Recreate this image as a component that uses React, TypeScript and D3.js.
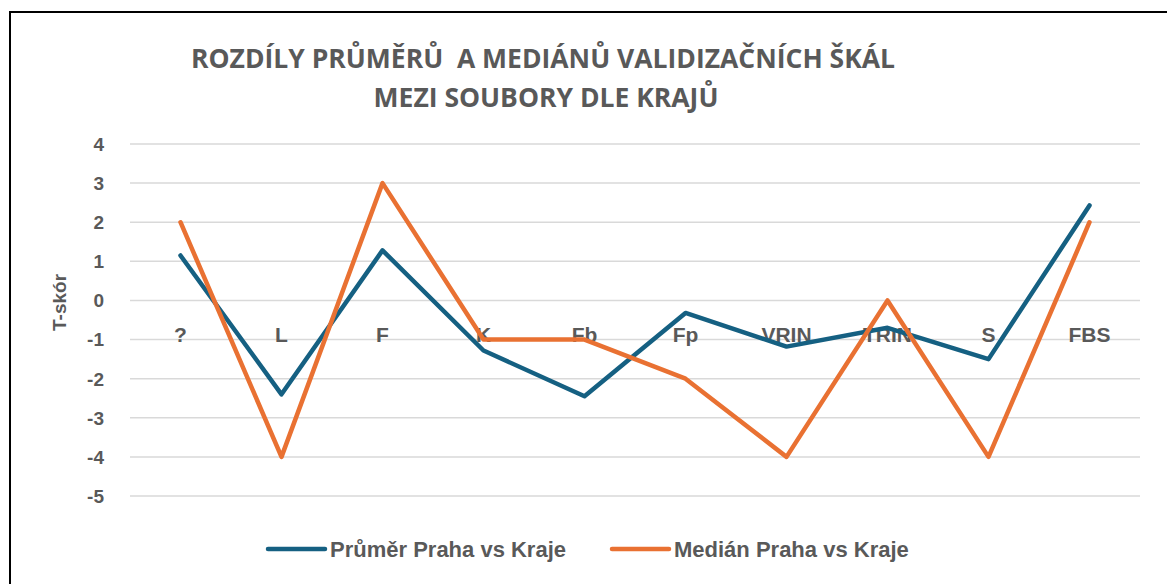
import React, { useEffect, useRef } from "react";
import * as d3 from "d3";

const categories = ["?", "L", "F", "K", "Fb", "Fp", "VRIN", "TRIN", "S", "FBS"];
const prumer = [1.15, -2.4, 1.28, -1.28, -2.45, -0.32, -1.18, -0.7, -1.5, 2.43];
const median = [2, -4, 3, -1, -1, -2, -4, 0, -4, 2];
const yTicks = [4, 3, 2, 1, 0, -1, -2, -3, -4, -5];
const seriesNames = ["Průměr Praha vs Kraje", "Medián Praha vs Kraje"];
const colors = ["#156082", "#E97132"];

const textColor = "#595959";
const narrow = "'Liberation Sans Narrow', 'Arial Narrow', sans-serif";

export default function App() {
  const ref = useRef<SVGSVGElement>(null);

  useEffect(() => {
    const svg = d3.select(ref.current);
    svg.selectAll("*").remove();

    const width = 1167, height = 584;
    const left = 130, right = 1140, top = 144, bottom = 496;

    svg.append("rect").attr("width", width).attr("height", height).attr("fill", "#fff");

    // border (only left and top visible in the picture)
    svg.append("path")
      .attr("d", `M10,${height} L10,12 L${width},12`)
      .attr("fill", "none")
      .attr("stroke", "#000")
      .attr("stroke-width", 2);

    var x = d3.scalePoint().domain(categories).range([left, right]).padding(0.5);
    var y = d3.scaleLinear().domain([-5, 4]).range([bottom, top]);

    // gridlines
    svg.append("g")
      .selectAll("line")
      .data(yTicks)
      .enter()
      .append("line")
      .attr("x1", left)
      .attr("x2", right)
      .attr("y1", (d) => y(d))
      .attr("y2", (d) => y(d))
      .attr("stroke", "#d9d9d9")
      .attr("stroke-width", 1.5);

    // y tick labels
    svg.append("g")
      .selectAll("text")
      .data(yTicks)
      .enter()
      .append("text")
      .attr("x", 104)
      .attr("y", (d) => y(d))
      .attr("dy", "0.36em")
      .attr("text-anchor", "end")
      .attr("font-family", "'Liberation Sans', Arial, sans-serif")
      .attr("font-weight", "bold")
      .attr("font-size", 19)
      .attr("fill", textColor)
      .text((d) => d);

    // y axis title
    svg.append("text")
      .attr("transform", `translate(66,${y(0) + 2}) rotate(-90)`)
      .attr("text-anchor", "middle")
      .attr("font-family", "'Liberation Sans', Arial, sans-serif")
      .attr("font-weight", "bold")
      .attr("font-size", 19)
      .attr("fill", textColor)
      .text("T-skór");

    // category labels, next to the zero line
    svg.append("g")
      .selectAll("text")
      .data(categories)
      .enter()
      .append("text")
      .attr("x", (d) => x(d)!)
      .attr("y", y(0) + 42)
      .attr("text-anchor", "middle")
      .attr("font-family", narrow)
      .attr("font-weight", "bold")
      .attr("font-size", 21)
      .attr("fill", textColor)
      .text((d) => d);

    // lines
    var line = d3.line<number>()
      .x((d, i) => x(categories[i])!)
      .y((d) => y(d));

    [prumer, median].forEach((s, i) => {
      svg.append("path")
        .datum(s)
        .attr("d", line)
        .attr("fill", "none")
        .attr("stroke", colors[i])
        .attr("stroke-width", 4.5)
        .attr("stroke-linejoin", "round")
        .attr("stroke-linecap", "round");
    });

    // title
    var title = svg.append("text")
      .attr("text-anchor", "middle")
      .attr("font-family", "'Open Sans', 'Noto Sans', sans-serif")
      .attr("font-weight", "bold")
      .attr("font-size", 26.5)
      .attr("fill", textColor);
    title.append("tspan").attr("x", 543).attr("y", 68).attr("xml:space", "preserve")
      .text("ROZDÍLY PRŮMĚRŮ  A MEDIÁNŮ VALIDIZAČNÍCH ŠKÁL");
    title.append("tspan").attr("x", 546).attr("y", 107)
      .text("MEZI SOUBORY DLE KRAJŮ");

    // legend
    var legendX = [268, 612];
    seriesNames.forEach((name, i) => {
      var g = svg.append("g").attr("transform", `translate(${legendX[i]},549)`);
      g.append("line")
        .attr("x1", 0).attr("x2", 57)
        .attr("stroke", colors[i])
        .attr("stroke-width", 4.5)
        .attr("stroke-linecap", "round");
      g.append("text")
        .attr("x", 62)
        .attr("dy", "0.35em")
        .attr("font-family", narrow)
        .attr("font-weight", "bold")
        .attr("font-size", 22)
        .attr("fill", textColor)
        .text(name);
    });
  }, []);

  return (
    <svg
      ref={ref}
      width={1167}
      height={584}
      style={{ position: "absolute", left: 0, top: 0 }}
    />
  );
}
